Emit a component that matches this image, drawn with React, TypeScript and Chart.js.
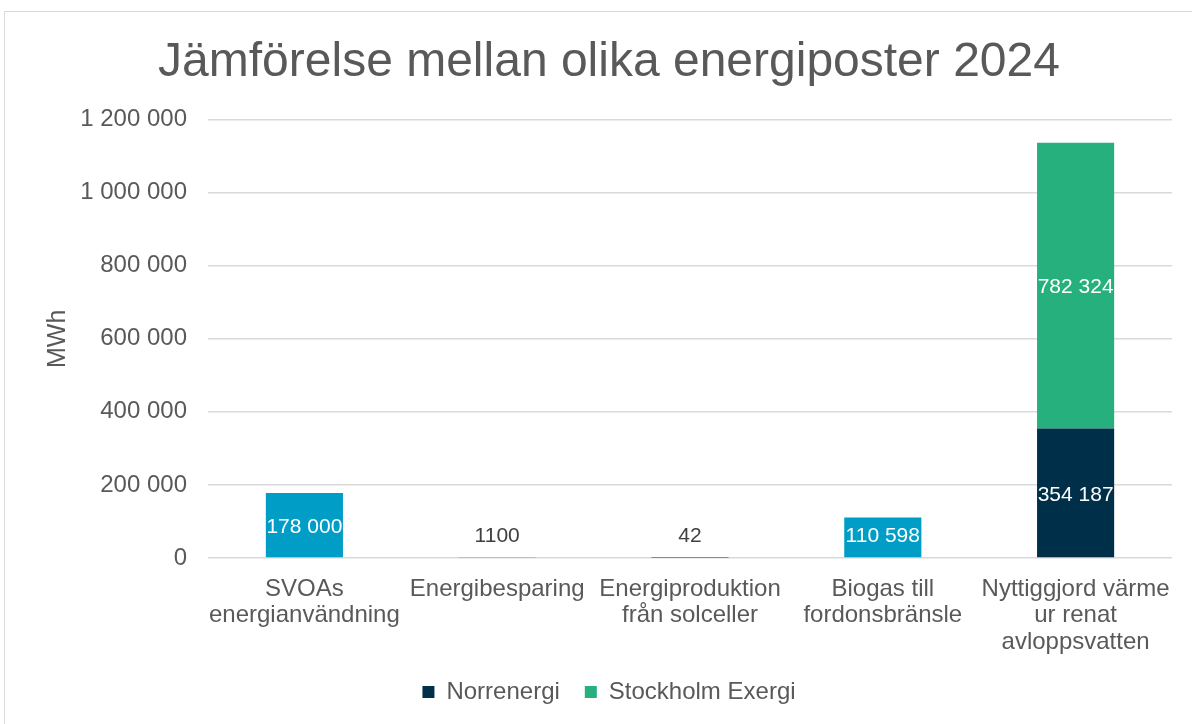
import React, { useEffect, useRef } from "react";
import { Chart, registerables } from "chart.js";

Chart.register(...registerables);

const FONT = '"Liberation Sans", Arial, sans-serif';
const TEXT = "#595959";

const chartTitle = "Jämförelse mellan olika energiposter 2024";
const yAxisTitle = "MWh";
const categories: string[][] = [
  ["SVOAs", "energianvändning"],
  ["Energibesparing"],
  ["Energiproduktion", "från solceller"],
  ["Biogas till", "fordonsbränsle"],
  ["Nyttiggjord värme", "ur renat", "avloppsvatten"],
];
const svoaValues: (number | null)[] = [178000, 1100, 42, 110598, null];
const norrenergiValues: (number | null)[] = [null, null, null, null, 354187];
const exergiValues: (number | null)[] = [null, null, null, null, 782324];
const seriesNames = ["SVOA", "Norrenergi", "Stockholm Exergi"];
const seriesColors = ["#009DC6", "#003049", "#25B07E"];
const yMin = 0;
const yMax = 1200000;
const yStep = 200000;

function fmt(v: number): string {
  const s = String(Math.round(v));
  return v >= 10000 ? s.replace(/\B(?=(\d{3})+(?!\d))/g, " ") : s;
}

const labelPlugin = {
  id: "barLabels",
  afterDatasetsDraw(chart: any) {
    const ctx = chart.ctx;
    ctx.save();
    ctx.font = `21px ${FONT}`;
    ctx.textAlign = "center";
    ctx.textBaseline = "middle";
    chart.data.datasets.forEach((ds: any, di: number) => {
      const meta = chart.getDatasetMeta(di);
      meta.data.forEach((bar: any, i: number) => {
        const v = ds.data[i];
        if (v == null) return;
        const { x, y, base } = bar.getProps(["x", "y", "base"], true);
        const h = base - y;
        const center = (y + base) / 2;
        const small = h < 24;
        const ly = Math.min(center, base - 23) + 2;
        ctx.fillStyle = small ? "#404040" : "#FFFFFF";
        ctx.fillText(fmt(v), x, ly);
      });
    });
    ctx.restore();
  },
};

export default function App() {
  const ref = useRef<HTMLCanvasElement | null>(null);

  useEffect(() => {
    if (!ref.current) return;
    Chart.defaults.font.family = FONT;
    const data = [svoaValues, norrenergiValues, exergiValues];
    const chart = new Chart(ref.current, {
      type: "bar",
      data: {
        labels: categories as any,
        datasets: seriesNames.map((name, i) => ({
          label: name,
          data: data[i] as any,
          backgroundColor: seriesColors[i],
          borderWidth: 0,
          stack: "s",
          categoryPercentage: 0.4,
          barPercentage: 1.0,
        })),
      },
      options: {
        animation: false,
        responsive: true,
        maintainAspectRatio: false,
        layout: { padding: { left: 46, right: 20, top: 0, bottom: 10 } },
        plugins: {
          title: {
            display: true,
            text: chartTitle,
            color: TEXT,
            font: { size: 48, weight: "normal", family: FONT, lineHeight: 1.2 },
            padding: { top: 34, bottom: 28 },
          },
          legend: {
            position: "bottom",
            labels: {
              filter: (item: any) => item.datasetIndex !== 0,
              boxWidth: 12,
              boxHeight: 12,
              padding: 25,
              color: TEXT,
              font: { size: 24, family: FONT },
            },
          },
          tooltip: { enabled: false },
        },
        scales: {
          x: {
            stacked: true,
            grid: { display: false, drawTicks: false },
            border: { display: false },
            ticks: {
              color: TEXT,
              font: { size: 24, family: FONT, lineHeight: 1.1 },
              padding: 18,
              autoSkip: false,
              maxRotation: 0,
              minRotation: 0,
            },
            afterFit: (s: any) => {
              s.height = 97;
            },
          },
          y: {
            stacked: true,
            min: yMin,
            max: yMax,
            grid: { color: "#D9D9D9", lineWidth: 1.5, drawTicks: false },
            border: { display: false },
            ticks: {
              stepSize: yStep,
              color: TEXT,
              font: { size: 24, family: FONT },
              padding: 21,
              callback: (v: any) => fmt(Number(v)),
            },
            title: {
              display: true,
              text: yAxisTitle,
              color: TEXT,
              font: { size: 25, family: FONT, lineHeight: 1 },
              padding: 0,
            },
            afterFit: (s: any) => {
              s.width = 162;
            },
          },
        },
      },
      plugins: [labelPlugin],
    });
    return () => chart.destroy();
  }, []);

  return (
    <div style={{ position: "fixed", left: 0, top: 0, width: 1192, height: 724, background: "#fff", overflow: "hidden" }}>
      <div
        style={{
          position: "absolute",
          left: 4,
          top: 11,
          width: 1300,
          height: 800,
          border: "1px solid #D9D9D9",
          boxSizing: "border-box",
        }}
      />
      <div style={{ position: "absolute", left: 0, top: 0, width: 1192, height: 724 }}>
        <canvas ref={ref} />
      </div>
    </div>
  );
}
